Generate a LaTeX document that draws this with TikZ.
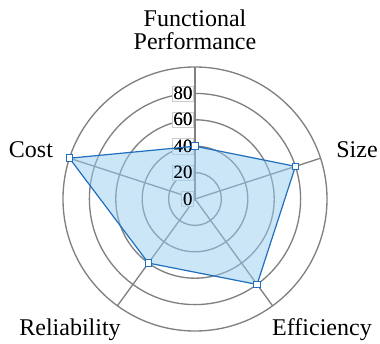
\documentclass[tikz,border=0pt]{standalone}
\usepackage{fontspec}
\setmainfont{Liberation Serif}
\usetikzlibrary{positioning}
\definecolor{lineblue}{RGB}{31,111,190}
\definecolor{areablue}{RGB}{150,205,240}

\begin{document}
\begin{tikzpicture}[x=0.75pt,y=0.75pt,
gridline/.style={draw=gray,line width=1pt},
tick/.style={draw=black!20,fill=white,inner sep=1pt,font=\fontsize{14}{14}\selectfont},
ticktext/.style={inner sep=1pt,font=\fontsize{14}{14}\selectfont},
datapt/.style={draw=lineblue,fill=white,rectangle,minimum size=5pt,inner sep=0pt,line width=0.8pt},
axislabel/.style={font=\fontsize{18}{17}\selectfont,align=center}]
\useasboundingbox (-195,-145) rectangle (185,199);
\coordinate (o) at (0,0);
% rings and spokes
\foreach \v in {20,40,...,100}
  \draw[gridline] (o) circle (1.32*\v);
\foreach \a/\n in {90/fp,18/sz,-54/ef,-126/re,162/co}
  \draw[gridline] (o) -- (\a:132) coordinate (ax\n);
% scale labels (boxes under the area, text on top)
\foreach \v in {0,20,...,80}
  \node[tick,anchor=east] (t\v) at (-1,1.32*\v) {\v};
% data
\coordinate (fp) at (90:1.32*40);
\coordinate (sz) at (18:1.32*80);
\coordinate (ef) at (-54:1.32*80);
\coordinate (re) at (-126:1.32*60);
\coordinate (co) at (162:1.32*100);
\fill[areablue,fill opacity=0.5] (fp) -- (sz) -- (ef) -- (re) -- (co) -- cycle;
\foreach \v in {0,20,...,80}
  \node[ticktext] at (t\v) {\v};
\draw[lineblue,line width=0.9pt,line join=round] (fp) -- (sz) -- (ef) -- (re) -- (co) -- cycle;
\foreach \n in {fp,sz,ef,re,co}
  \node[datapt] (m\n) at (\n) {};
% axis names
\node[axislabel] (lfp) at (0,169) {Functional\\Performance};
\node[axislabel] (lsz) at (162,49) {Size};
\node[axislabel] (lco) at (-164,49) {Cost};
\node[axislabel] (lre) at (-125,-131) {Reliability};
\node[axislabel] (lef) at (127,-131) {Efficiency};
\end{tikzpicture}
\end{document}
